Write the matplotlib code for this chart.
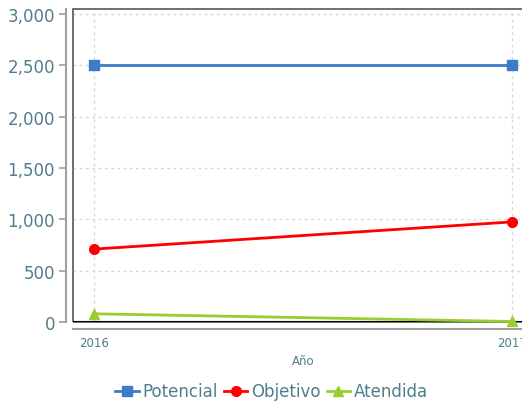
import matplotlib.pyplot as plt
from matplotlib.patches import Rectangle
from matplotlib.ticker import FuncFormatter

years = [2016, 2017]
potencial = [2500, 2500]
objetivo = [710, 975]
atendida = [80, 5]

txt = '#4f7d8c'

fig = plt.figure(figsize=(5.22, 4.02), dpi=100)
ax = fig.add_axes([73/522, 79/402, 460/522, 313/402])

ax.plot(years, potencial, color='#3d7bc9', lw=2, marker='s', ms=7, label='Potencial', clip_on=False, zorder=3)
ax.plot(years, objetivo, color='#ff0000', lw=2, marker='o', ms=7, label='Objetivo', clip_on=False, zorder=3)
ax.plot(years, atendida, color='#9acd32', lw=2, marker='^', ms=7, label='Atendida', clip_on=False, zorder=3)

ax.set_xlim(2016 - 21/418, 2017 + 21/418)
ax.set_ylim(0, 3049)
ax.set_yticks(range(0, 3001, 500))
ax.set_xticks(years)
ax.yaxis.set_major_formatter(FuncFormatter(lambda v, p: f'{int(v):,}'))

ax.grid(True, color='#d8d8d8', ls=(0, (2, 2.5)), lw=1)
ax.set_axisbelow(True)

for s in ['top', 'right']:
    ax.spines[s].set_visible(False)
for s in ['left', 'bottom']:
    ax.spines[s].set_position(('outward', 5))
    ax.spines[s].set_color('#a0a0a0')
    ax.spines[s].set_linewidth(1.5)

ax.add_patch(Rectangle((0, 0), 1, 1, transform=ax.transAxes, fill=False,
                       edgecolor='#555555', lw=1.2, clip_on=False, zorder=2))
ax.axhline(0, color='black', lw=1.5, zorder=2)

ax.tick_params(axis='y', colors='#a0a0a0', length=5, width=1.2, labelsize=12, labelcolor=txt, pad=3)
ax.tick_params(axis='x', length=0, labelsize=8.5, labelcolor=txt, pad=5)
ax.set_xlabel('Año', color=txt, fontsize=8.5, labelpad=4)

ax.legend(loc='lower center', bbox_to_anchor=(0.52, -0.015), bbox_transform=fig.transFigure,
          ncol=3, frameon=False, fontsize=12, labelcolor=txt, handlelength=1.4,
          handletextpad=0.2, columnspacing=0.4, borderaxespad=0.0)

fig.savefig('out.png', dpi=100)
